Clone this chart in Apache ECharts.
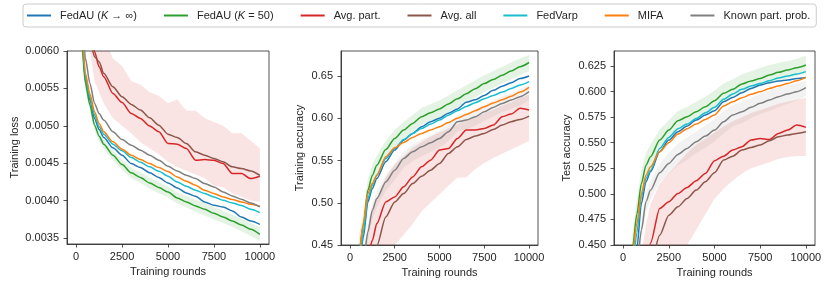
<!DOCTYPE html>
<html><head><meta charset="utf-8">
<script src="https://cdn.jsdelivr.net/npm/echarts@6/dist/echarts.min.js"></script>
<style>html,body{margin:0;padding:0;background:#fff}#c{width:831px;height:288px}</style>
</head><body><div id="c"></div>
<script>
// ---------- data ----------
const rounds = [0,250,500,750,1000,1250,1500,2000,2500,3000,3500,4000,4500,5000,5500,6000,6500,7000,7500,8000,8500,9000,9500,10000];
const seriesNames = ['FedAU (K → ∞)', 'FedAU (K = 50)', 'Avg. part.', 'Avg. all', 'FedVarp', 'MIFA', 'Known part. prob.'];
const xTicks = [0, 2500, 5000, 7500, 10000];

// Panel 1: training loss
const lossTicks = [0.0035, 0.0040, 0.0045, 0.0050, 0.0055, 0.0060];
const lossFedAUInf = [0.0095,0.0064,0.005612,0.005344,0.005098,0.004951,0.004844,0.004705,0.004607,0.004496,0.004442,0.004371,0.004308,0.004237,0.004170,0.004103,0.004058,0.003982,0.003938,0.003915,0.003862,0.003781,0.003728,0.003683];
const lossFedAU50 = [0.0093,0.0063,0.005567,0.005277,0.005009,0.004862,0.004755,0.004607,0.004482,0.004371,0.004308,0.004237,0.004174,0.004116,0.004036,0.003982,0.003929,0.003884,0.003830,0.003781,0.003728,0.003674,0.003616,0.003549];
const lossAvgPart = [0.0130,0.0110,0.0090,0.0065,0.00599,0.00579,0.005656,0.005433,0.005310,0.005165,0.005098,0.004996,0.004920,0.004763,0.004755,0.004696,0.004540,0.004549,0.004540,0.004496,0.004362,0.004362,0.004295,0.004326];
const lossAvgAll = [0.0130,0.0110,0.0088,0.00615,0.005924,0.005857,0.005701,0.005522,0.005388,0.005286,0.005210,0.005107,0.005009,0.004888,0.004844,0.004763,0.004652,0.004607,0.004563,0.004518,0.004451,0.004429,0.004397,0.004339];
const lossFedVarp = [0.0097,0.0065,0.005656,0.005379,0.005143,0.004987,0.004888,0.004755,0.004665,0.004576,0.004514,0.004451,0.004393,0.004326,0.004250,0.004192,0.004138,0.004094,0.004049,0.004005,0.003969,0.003933,0.003884,0.003840];
const lossMIFA = [0.0098,0.0066,0.005701,0.005424,0.005188,0.005031,0.004920,0.004786,0.004688,0.004607,0.004549,0.004496,0.004442,0.004388,0.004317,0.004259,0.004205,0.004138,0.004094,0.004049,0.004014,0.003982,0.003951,0.003924];
const lossKnown = [0.0105,0.0070,0.005902,0.005567,0.005299,0.005165,0.005076,0.004920,0.004817,0.004741,0.004674,0.004607,0.004540,0.004460,0.004397,0.004339,0.004295,0.004228,0.004183,0.004116,0.004063,0.004018,0.003969,0.003915];
const lossAvgPartUpper = [0.015,0.013,0.011,0.0075,0.0065,0.0063,0.0062,0.0059,0.0058,0.0056,0.00555,0.00545,0.0054,0.0053,0.00535,0.0052,0.0052,0.0051,0.00505,0.0050,0.0049,0.0049,0.0048,0.0047];
const lossAvgPartLower = [0.011,0.009,0.0075,0.006,0.0056,0.00545,0.0053,0.0051,0.0050,0.0049,0.00478,0.0047,0.00462,0.00452,0.00445,0.0044,0.00435,0.0043,0.0042,0.00418,0.0041,0.00405,0.0040,0.00398];
const lossFedAU50Upper = [0.0096,0.0064,0.00565,0.00535,0.00508,0.00493,0.00482,0.00467,0.00455,0.00444,0.00438,0.00431,0.00425,0.00419,0.00411,0.00406,0.00401,0.00397,0.00391,0.00386,0.00381,0.00376,0.00370,0.00364];
const lossFedAU50Lower = [0.0090,0.0062,0.00548,0.00520,0.00494,0.00479,0.00469,0.00454,0.00441,0.00430,0.00424,0.00416,0.00410,0.00404,0.00396,0.00391,0.00385,0.00380,0.00375,0.00370,0.00365,0.00359,0.00353,0.00346];

// Panel 2: training accuracy
const trainTicks = [0.45, 0.50, 0.55, 0.60, 0.65];
const trainFedAUInf = [0.18,0.31,0.42,0.4595,0.501,0.5168,0.5287,0.5484,0.5623,0.5741,0.582,0.5899,0.5959,0.600,0.606,0.611,0.619,0.622,0.627,0.633,0.638,0.642,0.647,0.650];
const trainFedAU50 = [0.20,0.33,0.44,0.474,0.5148,0.5326,0.5445,0.5630,0.5761,0.5860,0.5939,0.6018,0.6065,0.611,0.617,0.623,0.629,0.635,0.641,0.646,0.651,0.656,0.661,0.666];
const trainAvgPart = [0.12,0.22,0.32,0.40,0.435,0.4555,0.4753,0.501,0.5069,0.5188,0.5306,0.5425,0.5504,0.5623,0.5642,0.5761,0.586,0.586,0.5879,0.5919,0.6018,0.605,0.6117,0.6097];
const trainAvgAll = [0.10,0.20,0.30,0.37,0.40,0.425,0.449,0.4832,0.501,0.5109,0.5227,0.5314,0.5385,0.5464,0.5583,0.5662,0.5749,0.5789,0.582,0.5868,0.5919,0.5959,0.5986,0.6026];
const trainFedVarp = [0.18,0.31,0.425,0.4654,0.505,0.5208,0.5326,0.5524,0.5642,0.5749,0.582,0.5879,0.5931,0.5978,0.6035,0.609,0.614,0.6185,0.623,0.627,0.631,0.6352,0.6393,0.6433];
const trainMIFA = [0.20,0.33,0.44,0.476,0.5109,0.5227,0.5326,0.5544,0.565,0.5713,0.5773,0.582,0.586,0.5899,0.595,0.600,0.6045,0.609,0.6135,0.618,0.622,0.626,0.631,0.6366];
const trainKnown = [0.15,0.27,0.38,0.43,0.4654,0.4911,0.505,0.5247,0.5385,0.5524,0.5603,0.5662,0.571,0.5761,0.584,0.5959,0.5978,0.6018,0.6077,0.6128,0.6176,0.6215,0.6255,0.6314];
const trainAvgPartUpper = [0.15,0.25,0.35,0.43,0.47,0.49,0.505,0.53,0.545,0.555,0.565,0.572,0.578,0.583,0.588,0.593,0.598,0.602,0.606,0.61,0.615,0.619,0.624,0.628];
const trainAvgPartLower = [0.08,0.17,0.26,0.34,0.38,0.40,0.42,0.44,0.45,0.462,0.475,0.49,0.50,0.51,0.52,0.53,0.53,0.54,0.547,0.553,0.558,0.563,0.568,0.573];
const trainFedAU50Upper = [0.22,0.35,0.46,0.49,0.528,0.545,0.556,0.573,0.586,0.596,0.604,0.612,0.617,0.621,0.627,0.633,0.639,0.645,0.651,0.656,0.661,0.666,0.671,0.675];
const trainFedAU50Lower = [0.18,0.31,0.42,0.455,0.498,0.518,0.531,0.551,0.565,0.576,0.584,0.592,0.597,0.601,0.607,0.613,0.619,0.625,0.631,0.636,0.641,0.646,0.651,0.656];
const trainKnownUpper = [0.16,0.28,0.39,0.44,0.475,0.50,0.513,0.533,0.547,0.561,0.569,0.575,0.58,0.585,0.593,0.604,0.606,0.61,0.616,0.621,0.626,0.63,0.634,0.64];
const trainKnownLower = [0.14,0.26,0.37,0.42,0.455,0.48,0.495,0.514,0.527,0.541,0.549,0.555,0.56,0.565,0.573,0.584,0.587,0.591,0.597,0.602,0.607,0.611,0.615,0.621];

// Panel 3: test accuracy
const testTicks = [0.450, 0.475, 0.500, 0.525, 0.550, 0.575, 0.600, 0.625];
const testFedAUInf = [0.17,0.30,0.41,0.446,0.4906,0.5118,0.5216,0.5412,0.5526,0.5607,0.5663,0.5722,0.5771,0.5813,0.5901,0.5943,0.5989,0.6031,0.6064,0.6087,0.6103,0.6113,0.6129,0.6139];
const testFedAU50 = [0.20,0.33,0.445,0.480,0.5102,0.5281,0.5363,0.5526,0.5624,0.5715,0.5754,0.5803,0.5852,0.5911,0.5983,0.6022,0.6074,0.6103,0.6129,0.6162,0.6188,0.6211,0.6234,0.626];
const testAvgPart = [0.10,0.20,0.30,0.36,0.40,0.425,0.452,0.4857,0.4923,0.5004,0.5063,0.5128,0.52,0.5324,0.5369,0.5428,0.5461,0.5526,0.5542,0.5532,0.5591,0.5624,0.5673,0.565];
const testAvgAll = [0.08,0.18,0.27,0.33,0.37,0.40,0.43,0.4596,0.4792,0.4874,0.4955,0.5037,0.5118,0.5206,0.533,0.5369,0.5428,0.5454,0.5477,0.5519,0.5559,0.5575,0.5591,0.5607];
const testFedVarp = [0.18,0.31,0.42,0.462,0.497,0.5151,0.5232,0.5444,0.5552,0.5637,0.5682,0.5738,0.5793,0.5846,0.5924,0.5976,0.6022,0.6054,0.608,0.6106,0.6133,0.6152,0.6172,0.6195];
const testMIFA = [0.19,0.32,0.44,0.471,0.5004,0.5183,0.5265,0.5412,0.55,0.5585,0.5637,0.5682,0.5728,0.5771,0.5859,0.5901,0.594,0.5973,0.5999,0.6031,0.6054,0.608,0.6106,0.6139];
const testKnown = [0.15,0.27,0.38,0.43,0.4645,0.4923,0.5037,0.5206,0.5298,0.5386,0.5444,0.551,0.5565,0.5624,0.5705,0.5771,0.5803,0.5846,0.5885,0.5917,0.595,0.5976,0.5999,0.6038];
const testAvgPartUpper = [0.15,0.25,0.34,0.40,0.44,0.47,0.49,0.51,0.52,0.53,0.54,0.548,0.554,0.56,0.566,0.571,0.575,0.579,0.582,0.585,0.588,0.59,0.592,0.594];
const testAvgPartLower = [0.05,0.15,0.24,0.29,0.33,0.36,0.38,0.41,0.43,0.44,0.45,0.465,0.48,0.495,0.505,0.513,0.52,0.525,0.528,0.531,0.534,0.536,0.537,0.537];
const testFedAU50Upper = [0.22,0.35,0.46,0.494,0.523,0.54,0.548,0.563,0.572,0.581,0.585,0.59,0.595,0.601,0.608,0.612,0.617,0.62,0.623,0.626,0.628,0.63,0.632,0.635];
const testFedAU50Lower = [0.18,0.31,0.43,0.466,0.497,0.516,0.525,0.542,0.553,0.562,0.567,0.572,0.577,0.583,0.59,0.594,0.599,0.602,0.605,0.608,0.611,0.613,0.615,0.618];
const testKnownUpper = [0.16,0.28,0.39,0.44,0.474,0.502,0.513,0.53,0.54,0.549,0.555,0.561,0.567,0.573,0.581,0.587,0.59,0.594,0.598,0.601,0.604,0.606,0.608,0.611];
const testKnownLower = [0.14,0.26,0.37,0.42,0.455,0.482,0.494,0.511,0.519,0.528,0.533,0.54,0.545,0.551,0.559,0.566,0.569,0.574,0.578,0.581,0.585,0.588,0.591,0.596];

// ---------- chart ----------
const colors = ['#1f77b4', '#2ca02c', '#d62728', '#8c564b', '#17becf', '#ff7f0e', '#7f7f7f'];
const FONT = 'Liberation Sans, Arial, sans-serif';
const INK = '#262626';
const RED_BAND = 'rgba(214,39,40,0.13)', GREEN_BAND = 'rgba(44,160,44,0.13)', GRAY_BAND = 'rgba(127,127,127,0.10)';

const panels = [
  { grid: {left: 67, top: 51, width: 202, height: 193}, yMin: 0.00342, yMax: 0.0060, ticks: lossTicks, dec: 4,
    yName: 'Training loss', nameGap: 47,
    lines: [lossFedAUInf, lossFedAU50, lossAvgPart, lossAvgAll, lossFedVarp, lossMIFA, lossKnown],
    bands: [[lossAvgPartUpper, lossAvgPartLower, RED_BAND], [lossFedAU50Upper, lossFedAU50Lower, GREEN_BAND]] },
  { grid: {left: 341, top: 51, width: 197, height: 194}, yMin: 0.45, yMax: 0.6796, ticks: trainTicks, dec: 2,
    yName: 'Training accuracy', nameGap: 36,
    lines: [trainFedAUInf, trainFedAU50, trainAvgPart, trainAvgAll, trainFedVarp, trainMIFA, trainKnown],
    bands: [[trainAvgPartUpper, trainAvgPartLower, RED_BAND], [trainFedAU50Upper, trainFedAU50Lower, GREEN_BAND], [trainKnownUpper, trainKnownLower, GRAY_BAND]] },
  { grid: {left: 614, top: 51, width: 201, height: 194}, yMin: 0.45, yMax: 0.6397, ticks: testTicks, dec: 3,
    yName: 'Test accuracy', nameGap: 42,
    lines: [testFedAUInf, testFedAU50, testAvgPart, testAvgAll, testFedVarp, testMIFA, testKnown],
    bands: [[testAvgPartUpper, testAvgPartLower, RED_BAND], [testFedAU50Upper, testFedAU50Lower, GREEN_BAND], [testKnownUpper, testKnownLower, GRAY_BAND]] }
];

const pts = vals => rounds.map((r, k) => [r, vals[k]]);

function bandSeries(i, upper, lower, color) {
  return {
    type: 'custom', xAxisIndex: i, yAxisIndex: i, silent: true, z: 1, clip: true,
    data: [[rounds[rounds.length - 1], lower[lower.length - 1]]],
    renderItem: (params, api) => {
      const top = rounds.map((r, k) => api.coord([r, upper[k]]));
      const bot = rounds.map((r, k) => api.coord([r, lower[k]])).reverse();
      const cs = params.coordSys;
      return {
        type: 'polygon', shape: {points: top.concat(bot)}, style: {fill: color},
        clipPath: {type: 'rect', shape: {x: cs.x, y: cs.y, width: cs.width, height: cs.height}}
      };
    }
  };
}

const grid = [], xAxis = [], yAxis = [], series = [];
panels.forEach((p, i) => {
  grid.push(Object.assign({show: true, borderColor: INK, borderWidth: 0.8, backgroundColor: 'transparent'}, p.grid));
  xAxis.push({
    type: 'value', gridIndex: i, min: -500, max: 10500,
    name: 'Training rounds', nameLocation: 'middle', nameGap: 22,
    nameTextStyle: {fontSize: 11, color: INK, fontFamily: FONT},
    axisLine: {show: true, onZero: false, lineStyle: {color: INK, width: 0.8}},
    axisTick: {show: true, length: 3.5, lineStyle: {color: INK, width: 0.8}, customValues: xTicks},
    axisLabel: {fontSize: 11, color: INK, fontFamily: FONT, margin: 7, customValues: xTicks, formatter: v => String(v)},
    splitLine: {show: false}
  });
  yAxis.push({
    type: 'value', gridIndex: i, min: p.yMin, max: p.yMax,
    name: p.yName, nameLocation: 'middle', nameGap: p.nameGap, nameRotate: 90,
    nameTextStyle: {fontSize: 11, color: INK, fontFamily: FONT},
    axisLine: {show: true, onZero: false, lineStyle: {color: INK, width: 0.8}},
    axisTick: {show: true, length: 3.5, lineStyle: {color: INK, width: 0.8}, customValues: p.ticks},
    axisLabel: {fontSize: 11, color: INK, fontFamily: FONT, margin: 8, customValues: p.ticks, formatter: v => v.toFixed(p.dec)},
    splitLine: {show: false}
  });
  p.bands.forEach(b => series.push(bandSeries(i, b[0], b[1], b[2])));
  p.lines.forEach((vals, k) => {
    series.push({type: 'line', name: seriesNames[k], xAxisIndex: i, yAxisIndex: i, data: pts(vals),
      symbol: 'none', smooth: 0.25, smoothMonotone: 'x', color: colors[k],
      lineStyle: {width: 1.5, color: colors[k]}, z: 3 + k, clip: true});
  });
});

const chart = echarts.init(document.getElementById('c'), null, {renderer: 'canvas'});
chart.setOption({
  animation: false,
  backgroundColor: '#ffffff',
  legend: {
    data: seriesNames, top: 4, left: 23, orient: 'horizontal',
    icon: 'rect', itemWidth: 24, itemHeight: 2, itemGap: 27,
    padding: [6, 6, 6, 4], borderColor: '#cccccc', borderWidth: 1, borderRadius: 3,
    textStyle: {fontSize: 11, color: INK, fontFamily: FONT, padding: [0, 0, 0, 4],
      rich: {i: {fontStyle: 'italic', fontSize: 11, color: INK, fontFamily: FONT}}},
    formatter: n => n.startsWith('FedAU') ? n.replace('K', '{i|K}') : n
  },
  grid, xAxis, yAxis, series
});
</script>
</body></html>
